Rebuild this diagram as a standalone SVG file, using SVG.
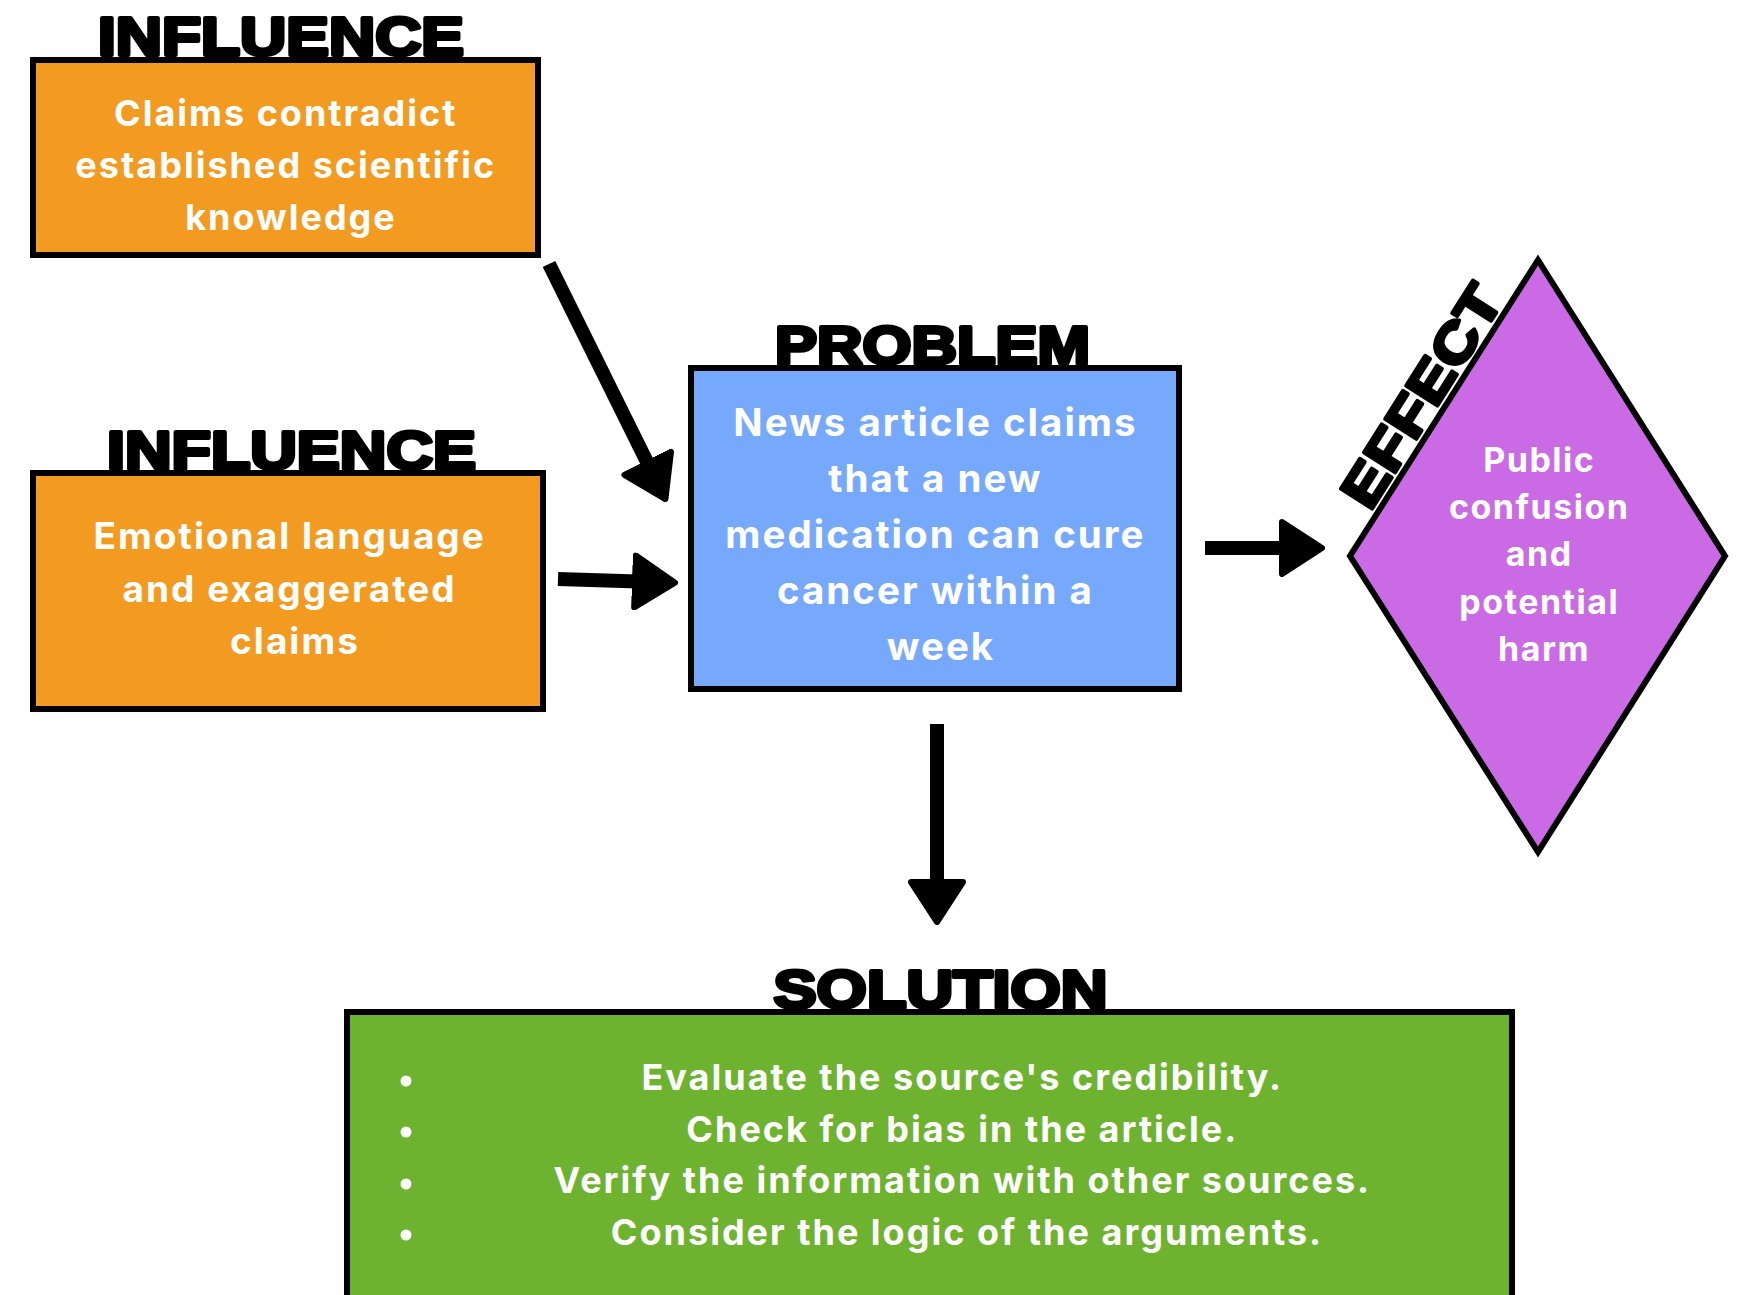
<svg xmlns="http://www.w3.org/2000/svg" width="1740" height="1295" viewBox="0 0 1740 1295">
  <style>
    .box { stroke: #000; stroke-width: 6; }
    .influence { fill: #F39B21; }
    .problem { fill: #76A8FC; }
    .effect { fill: #CA6BE5; stroke-linejoin: miter; }
    .solution { fill: #6DB32F; }
    .head { font-family: "Liberation Sans", Arial, sans-serif; font-weight: 700; font-size: 54px; fill: #000; stroke: #000; stroke-width: 3.8; stroke-linejoin: round; }
    .body { font-family: Inter, Roboto, "Liberation Sans", sans-serif; font-weight: 700; font-size: 36px; fill: #fff; text-anchor: middle; letter-spacing: 2px; }
    .link { fill: none; stroke: #000; stroke-width: 14; stroke-linecap: butt; }
    .bullet { fill: #fff; }
  </style>
  <defs>
    <marker id="arrowhead" viewBox="0 0 46 58" markerWidth="46" markerHeight="58" refX="6" refY="29" orient="auto" markerUnits="userSpaceOnUse">
      <path d="M3,3 L43,29 L3,55 Z" fill="#000" stroke="#000" stroke-width="6" stroke-linejoin="round"/>
    </marker>
  </defs>

  <!-- influence: contradicting claims -->
  <g id="influence-1">
    <text class="head" x="281" y="55" text-anchor="middle" textLength="366" lengthAdjust="spacingAndGlyphs">INFLUENCE</text>
    <rect class="box influence" x="33" y="60" width="505" height="195"/>
    <text class="body" x="291">
      <tspan x="291" y="126">Claims contradict</tspan>
      <tspan x="291" y="178">established scientific</tspan>
      <tspan x="291" y="230">knowledge</tspan>
    </text>
  </g>

  <!-- influence: emotional language -->
  <g id="influence-2">
    <text class="head" x="291.5" y="469" text-anchor="middle" textLength="369" lengthAdjust="spacingAndGlyphs">INFLUENCE</text>
    <rect class="box influence" x="33" y="473" width="510" height="236"/>
    <text class="body" x="295" style="font-size:37px">
      <tspan x="295" y="549">Emotional language</tspan>
      <tspan x="295" y="602">and exaggerated</tspan>
      <tspan x="295" y="654">claims</tspan>
    </text>
  </g>

  <!-- central problem -->
  <g id="problem">
    <text class="head" x="932.5" y="364" text-anchor="middle" textLength="315" lengthAdjust="spacingAndGlyphs">PROBLEM</text>
    <rect class="box problem" x="691" y="368" width="488" height="321"/>
    <text class="body" x="941" style="font-size:38.5px">
      <tspan x="941" y="436">News article claims</tspan>
      <tspan x="941" y="492">that a new</tspan>
      <tspan x="941" y="548">medication can cure</tspan>
      <tspan x="941" y="604">cancer within a</tspan>
      <tspan x="941" y="660">week</tspan>
    </text>
  </g>

  <!-- effect diamond -->
  <g id="effect">
    <polygon class="box effect" points="1538,260 1725,556 1538,852 1350,556"/>
    <text class="head" transform="translate(1370,512) rotate(-57.6)" x="0" y="0" textLength="251" lengthAdjust="spacingAndGlyphs">EFFECT</text>
    <text class="body" x="1544" style="font-size:34px;letter-spacing:1.5px">
      <tspan x="1544" y="472">Public</tspan>
      <tspan x="1544" y="519">confusion</tspan>
      <tspan x="1544" y="566">and</tspan>
      <tspan x="1544" y="614">potential</tspan>
      <tspan x="1544" y="661">harm</tspan>
    </text>
  </g>

  <!-- solution list -->
  <g id="solution">
    <text class="head" x="940.5" y="1008" text-anchor="middle" textLength="334" lengthAdjust="spacingAndGlyphs">SOLUTION</text>
    <rect class="box solution" x="347" y="1012" width="1165" height="300"/>
    <circle class="bullet" cx="406" cy="1081" r="5.5"/>
    <circle class="bullet" cx="406" cy="1132" r="5.5"/>
    <circle class="bullet" cx="406" cy="1184" r="5.5"/>
    <circle class="bullet" cx="406" cy="1235" r="5.5"/>
    <text class="body" x="967">
      <tspan x="967" y="1090">Evaluate the source's credibility.</tspan>
      <tspan x="967" y="1142">Check for bias in the article.</tspan>
      <tspan x="967" y="1193">Verify the information with other sources.</tspan>
      <tspan x="967" y="1245">Consider the logic of the arguments.</tspan>
    </text>
  </g>

  <!-- connectors -->
  <g id="connectors">
    <path class="link" d="M549,264 L649,466" marker-end="url(#arrowhead)"/>
    <path class="link" d="M558,579 L638,581.6" marker-end="url(#arrowhead)"/>
    <path class="link" d="M1205,548 L1285,548" marker-end="url(#arrowhead)"/>
    <path class="link" d="M937,724 L937,885" marker-end="url(#arrowhead)"/>
  </g>
</svg>
